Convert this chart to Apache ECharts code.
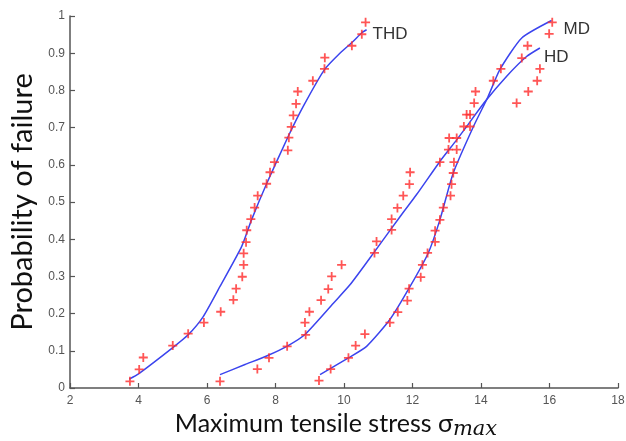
<!DOCTYPE html>
<html>
<head>
  <meta charset="UTF-8">
  <title>Probability of failure</title>
  <script src="https://cdn.jsdelivr.net/npm/echarts@6/dist/echarts.min.js"></script>
  <style>
    html, body { margin: 0; background: #fff; }
    #main { width: 626px; height: 441px; }
  </style>
</head>
<body>

<div id="main"></div>

<script>
  // axis ticks
  var xTicks = [2, 4, 6, 8, 10, 12, 14, 16, 18];
  var yTicks = [0, 0.1, 0.2, 0.3, 0.4, 0.5, 0.6, 0.7, 0.8, 0.9, 1];

  // test points (stress, probability)
  var thdX = [3.75, 4.02, 4.14, 5.0, 5.45, 5.91, 6.40, 6.77, 6.85, 7.03, 7.07, 7.07, 7.14, 7.16, 7.28, 7.39,
              7.48, 7.74, 7.84, 7.97, 8.36, 8.39, 8.46, 8.52, 8.60, 8.65, 9.09, 9.43, 9.44, 10.23, 10.52, 10.63];
  var thdY = [0.018, 0.05, 0.082, 0.114, 0.146, 0.176, 0.205, 0.237, 0.267, 0.299, 0.331, 0.362, 0.392, 0.424, 0.454, 0.485,
              0.517, 0.549, 0.580, 0.607, 0.639, 0.673, 0.702, 0.733, 0.764, 0.797, 0.826, 0.858, 0.888, 0.920, 0.951, 0.983];

  var hdX = [6.38, 7.47, 7.81, 8.34, 8.88, 8.86, 8.99, 9.33, 9.54, 9.64, 9.93, 10.89, 10.95, 11.39, 11.39, 11.56,
             11.73, 11.91, 11.93, 12.80, 13.05, 13.07, 13.50, 13.58, 15.04, 15.38, 15.64, 15.72];
  var hdY = [0.018, 0.051, 0.081, 0.112, 0.143, 0.176, 0.205, 0.236, 0.266, 0.30, 0.331, 0.363, 0.394, 0.425, 0.454, 0.484,
             0.517, 0.548, 0.58, 0.607, 0.641, 0.672, 0.703, 0.735, 0.766, 0.797, 0.826, 0.858];

  var mdX = [9.27, 9.61, 10.13, 10.34, 10.61, 11.34, 11.57, 11.85, 11.90, 12.24, 12.29, 12.44, 12.66, 12.66, 12.80, 12.90,
             13.11, 13.14, 13.19, 13.21, 13.29, 13.29, 13.68, 13.68, 13.80, 13.84, 14.36, 14.58, 15.19, 15.36, 15.99, 16.08];
  var mdY = [0.020, 0.051, 0.081, 0.114, 0.145, 0.176, 0.204, 0.235, 0.267, 0.298, 0.331, 0.363, 0.393, 0.423, 0.452, 0.485,
             0.517, 0.548, 0.578, 0.607, 0.641, 0.672, 0.703, 0.735, 0.766, 0.797, 0.826, 0.858, 0.887, 0.920, 0.952, 0.983];

  // fitted curves
  var thdFitX = [3.73, 4.0, 5.02, 5.45, 5.89, 6.38, 7.01, 7.30, 7.74, 8.37, 8.81, 9.43, 9.88, 10.27, 10.52, 10.66];
  var thdFitY = [0.024, 0.038, 0.11, 0.143, 0.192, 0.273, 0.38, 0.452, 0.549, 0.676, 0.757, 0.856, 0.90, 0.932, 0.955, 0.963];

  var hdFitX = [6.38, 7.11, 7.79, 8.37, 8.85, 9.69, 10.18, 10.92, 11.64, 12.12, 12.80, 13.29, 13.58, 14.12, 14.75, 15.33, 15.72];
  var hdFitY = [0.036, 0.063, 0.088, 0.114, 0.143, 0.228, 0.278, 0.37, 0.461, 0.52, 0.609, 0.667, 0.703, 0.77, 0.838, 0.891, 0.914];

  var mdFitX = [9.30, 10.13, 10.66, 11.34, 11.93, 12.46, 12.80, 13.19, 13.78, 14.21, 14.55, 15.19, 16.06];
  var mdFitY = [0.036, 0.081, 0.112, 0.184, 0.273, 0.363, 0.452, 0.578, 0.703, 0.784, 0.856, 0.941, 0.988];

  function pairs(xs, ys) {
    return xs.map(function (x, i) { return [x, ys[i]]; });
  }

  var plus = 'path://M4,0h2v4h4v2h-4v4h-2v-4h-4v-2h4z';
  var red = '#ff2b2b';
  var blue = '#3b44ee';

  function pts(name, xs, ys) {
    return {
      name: name, type: 'scatter', data: pairs(xs, ys),
      symbol: plus, symbolSize: 9,
      itemStyle: { color: red },
      silent: true, z: 3
    };
  }

  function fit(name, xs, ys, off) {
    return {
      name: name, type: 'line', data: pairs(xs, ys),
      showSymbol: false, symbol: 'none',
      smooth: 0.2,
      lineStyle: { color: blue, width: 1.5 },
      endLabel: {
        show: true, formatter: '{a}', offset: off,
        color: '#333', fontSize: 17, fontFamily: 'Liberation Sans'
      },
      silent: true, z: 2
    };
  }

  var tickLabel = { color: '#555', fontSize: 12, fontFamily: 'Liberation Sans' };
  var axisLine = { lineStyle: { color: '#555', width: 1.5 } };
  var axisTick = { inside: true, length: 5, lineStyle: { color: '#555', width: 1.2 } };

  echarts.init(document.getElementById('main')).setOption({
    animation: false,
    backgroundColor: '#fff',
    grid: { left: 70, right: 8, top: 16, bottom: 53, outerBoundsMode: 'none' },
    xAxis: {
      type: 'value', min: xTicks[0], max: xTicks[xTicks.length - 1], interval: 2,
      splitLine: { show: false },
      axisLine: axisLine, axisTick: axisTick,
      axisLabel: Object.assign({ margin: 7 }, tickLabel),
      name: '{a|Maximum tensile stress σ}{b|max}',
      nameLocation: 'middle', nameGap: 19,
      nameTextStyle: {
        padding: [0, 16, 0, 0],
        rich: {
          a: { fontFamily: 'Lato', fontSize: 25, color: '#111', lineHeight: 32, verticalAlign: 'middle' },
          b: { fontFamily: 'DejaVu Serif', fontStyle: 'italic', fontSize: 21, color: '#111', lineHeight: 22, verticalAlign: 'bottom' }
        }
      }
    },
    yAxis: {
      type: 'value', min: yTicks[0], max: yTicks[yTicks.length - 1], interval: 0.1,
      splitLine: { show: false },
      axisLine: axisLine, axisTick: axisTick,
      axisLabel: Object.assign({ margin: 5 }, tickLabel),
      name: 'Probability of failure',
      nameLocation: 'middle', nameGap: 31,
      nameTextStyle: { fontFamily: 'Lato', fontSize: 29, color: '#111' }
    },
    series: [
      fit('THD', thdFitX, thdFitY, [-2, 5]),
      fit('HD', hdFitX, hdFitY, [-4, 9]),
      fit('MD', mdFitX, mdFitY, [4, 9]),
      pts('THD data', thdX, thdY),
      pts('HD data', hdX, hdY),
      pts('MD data', mdX, mdY)
    ]
  });
</script>
</body>
</html>
